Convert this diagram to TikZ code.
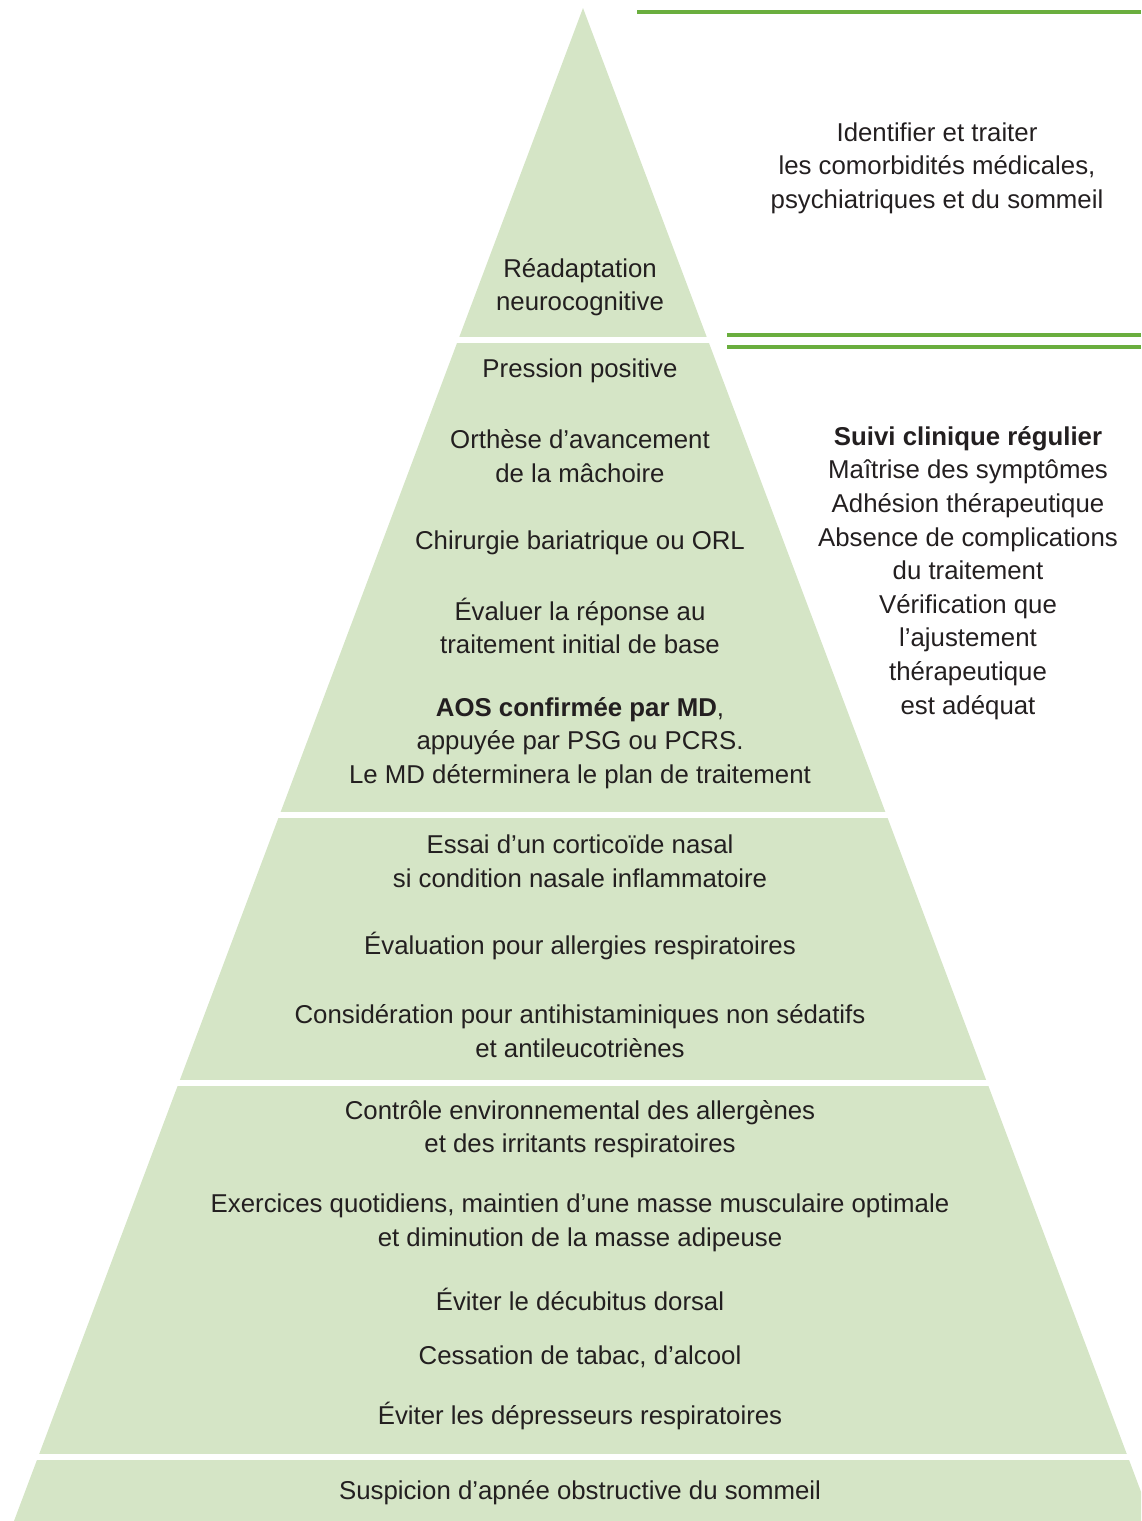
\documentclass[tikz,border=0pt]{standalone}
\usepackage{fontspec}
\setmainfont{Liberation Sans}
\usetikzlibrary{positioning}
\definecolor{pyrfill}{RGB}{213,229,198}
\definecolor{rulegreen}{RGB}{106,174,62}
\definecolor{txtgray}{RGB}{35,31,32}
\tikzset{
  lbl/.style={align=center,text=txtgray,inner sep=0pt,
    font=\fontsize{12.9}{16.8}\selectfont},
  gap/.style={white,line width=3pt},
  grule/.style={rulegreen,line width=1.6pt}
}

\begin{document}
\begin{tikzpicture}[x=0.5pt,y=-0.5pt]
\useasboundingbox (0,0) rectangle (1141,1521);
\begin{scope}
\clip (0,0) rectangle (1141,1521);
\fill[pyrfill] (583,8) -- (14,1521) -- (1152,1521) -- cycle;
\end{scope}
\foreach \y in {340,815,1083,1457}
  \draw[gap] (0,\y) -- (1141,\y);
\draw[grule,line width=2pt] (637,12) -- (1141,12);
\draw[grule] (727,335) -- (1141,335);
\draw[grule] (727,347) -- (1141,347);

\node[lbl] (readapt) at (580,287) {Réadaptation\\neurocognitive};
\node[lbl] (pression) at (580,371) {Pression positive};
\node[lbl] (orthese) at (580,456) {Orthèse d'avancement\\de la mâchoire};
\node[lbl] (chirurgie) at (580,543) {Chirurgie bariatrique ou ORL};
\node[lbl] (evaluer) at (580,626) {Évaluer la réponse au\\traitement initial de base};
\node[lbl] (aos) at (580,743) {{\bfseries AOS confirmée par MD},\\appuyée par PSG ou PCRS.\\Le MD déterminera le plan de traitement};
\node[lbl] (essai) at (580,861) {Essai d'un corticoïde nasal\\si condition nasale inflammatoire};
\node[lbl] (allergies) at (580,946) {Évaluation pour allergies respiratoires};
\node[lbl] (antihist) at (580,1031) {Considération pour antihistaminiques non sédatifs\\et antileucotriènes};
\node[lbl] (controle) at (580,1129) {Contrôle environnemental des allergènes\\et des irritants respiratoires};
\node[lbl] (exercices) at (580,1223) {Exercices quotidiens, maintien d'une masse musculaire optimale\\et diminution de la masse adipeuse};
\node[lbl] (decubitus) at (580,1299) {Éviter le décubitus dorsal};
\node[lbl] (cessation) at (580,1357) {Cessation de tabac, d'alcool};
\node[lbl] (depress) at (580,1416) {Éviter les dépresseurs respiratoires};
\node[lbl] (suspicion) at (580,1493) {Suspicion d'apnée obstructive du sommeil};

\node[lbl] (comorb) at (937,168) {Identifier et traiter\\les comorbidités médicales,\\psychiatriques et du sommeil};
\node[lbl] (suivi) at (968,573) {{\bfseries Suivi clinique régulier}\\Maîtrise des symptômes\\Adhésion thérapeutique\\Absence de complications\\du traitement\\Vérification que\\l'ajustement\\thérapeutique\\est adéquat};
\end{tikzpicture}
\end{document}
